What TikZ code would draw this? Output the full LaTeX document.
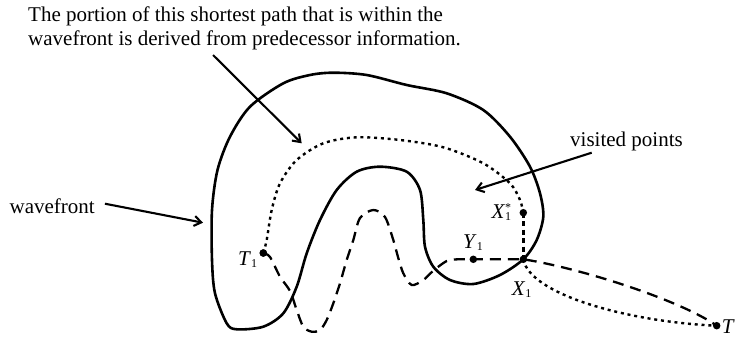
\documentclass[tikz,border=0pt]{standalone}
\usepackage{fontspec}
\setmainfont{Liberation Serif}
\usetikzlibrary{arrows.meta}
\tikzset{
  front/.style={line width=2.6pt,line join=round},
  pointer/.style={line width=2.1pt,-{Straight Barb[length=7pt,width=10pt,line width=2.1pt]}},
  dotpath/.style={line width=2.4pt,dash pattern=on 3pt off 3.8pt},
  dashpath/.style={line width=2.3pt,dash pattern=on 11pt off 7pt},
  shortdash/.style={line width=2.4pt,dash pattern=on 5pt off 3.5pt},
  vertex/.style={circle,fill,inner sep=0pt,minimum size=7.5pt},
  lbl/.style={font=\fontsize{21}{24.5}\selectfont,inner sep=0pt},
}
\newcommand{\sub}[1]{\raisebox{-2.5pt}{\fontsize{12}{12}\selectfont #1}}
\newcommand{\sym}[2]{\textit{#1}\sub{#2}}
\begin{document}
\begin{tikzpicture}[x=1pt,y=-1pt]
    \useasboundingbox (0,0) rectangle (738,337);
    % texts
    \node [lbl,anchor=north west,align=left] (note) at (28,6.2)
        {The portion of this shortest path that is within the\\wavefront is derived from predecessor information.};
    \node [lbl,anchor=base west] (wflabel) at (9.4,213) {wavefront};
    \node [lbl,anchor=base west] (vplabel) at (570,146.7) {visited points};
    % points
    \node [vertex] (T1) at (263.3,253) {};
    \node [vertex] (X1s) at (523.3,212.7) {};
    \node [vertex] (Y1) at (473.3,259.3) {};
    \node [vertex] (X1) at (523.3,259.3) {};
    \node [vertex] (T) at (716.7,325.7) {};
    \node [lbl,anchor=base west] (T1lbl) at (238,265) {\sym{T}{1}};
    \node [lbl,anchor=base west] (X1slbl) at (491.5,218.3) {\textit{X}\rlap{\sub{1}}\raisebox{7pt}{\fontsize{12}{12}\selectfont *}};
    \node [lbl,anchor=base west] (Y1lbl) at (463,248.3) {\sym{Y}{1}};
    \node [lbl,anchor=base west] (X1lbl) at (511.7,295) {\sym{X}{1}};
    \node [lbl,anchor=base west] (Tlbl) at (721.7,333) {\textit{T}};
    % the wavefront
    \draw [front] plot [smooth cycle] coordinates {(226.7,323.3) (215,293.3) (212,260) (212,210) (217.5,170)
        (230,136.7) (250,106.7) (283.3,83.3) (310,75) (333.3,72.7) (366.7,75) (406.7,85) (446.7,93.3)
        (483.3,110) (510,136.7) (530,166.7) (540,193.3) (543.3,216.7) (536.7,240) (523.3,259.3) (500,275)
        (473.3,284) (450,280) (433.3,266.7) (425,246.7) (423.3,220) (420,190) (406.7,171.7) (380,166.7)
        (356.7,171.7) (336.7,190) (320,220) (306.7,253.3) (296.7,286.7) (283.3,313.3) (263.3,326.7) (236.7,329.3)};
    % shortest path inside the wavefront
    \draw [dotpath] plot [smooth] coordinates {(T1.center) (266.7,240) (271.7,210) (280,183.3) (296.7,160)
        (323.3,143.3) (356.7,137.3) (400,140) (443.3,147.3) (483.3,163.3) (510,183.3) (520,200) (X1s.center)};
    \draw [shortdash] (X1s.center) -- (X1.center);
    \draw [dotpath] (X1.center) .. controls (530,295) and (630,322) .. (T.center);
    % other path
    \draw [dashpath] plot [smooth] coordinates {(T1.center) (270,257) (280,276.7) (290,291) (296.7,310)
        (303.3,326.7) (311.7,331.7) (320,330) (326.7,320) (333.3,303.3) (340,283.3) (346.7,260) (353.3,240)
        (360,218) (373.3,210) (385,217) (393.3,240) (398,257) (403.3,273.3) (411.7,285) (423.3,280) (433,271)
        (446.7,261) (458,259.3) (Y1.center)}
        -- (X1.center) .. controls (580,268) and (680,300) .. (T.center);
    % pointers
    \coordinate (noteend) at (213,55);
    \coordinate (notetip) at (301.7,143.3);
    \coordinate (wftip) at (203,222.7);
    \coordinate (vpend) at (591.7,152.7);
    \coordinate (vptip) at (475,190);
    \draw [pointer] (noteend) -- (notetip);
    \draw [pointer] ([xshift=10pt,yshift=2pt]wflabel.east) -- (wftip);
    \draw [pointer] (vpend) -- (vptip);
    \node [vertex] at (T1) {};
\end{tikzpicture}
\end{document}
